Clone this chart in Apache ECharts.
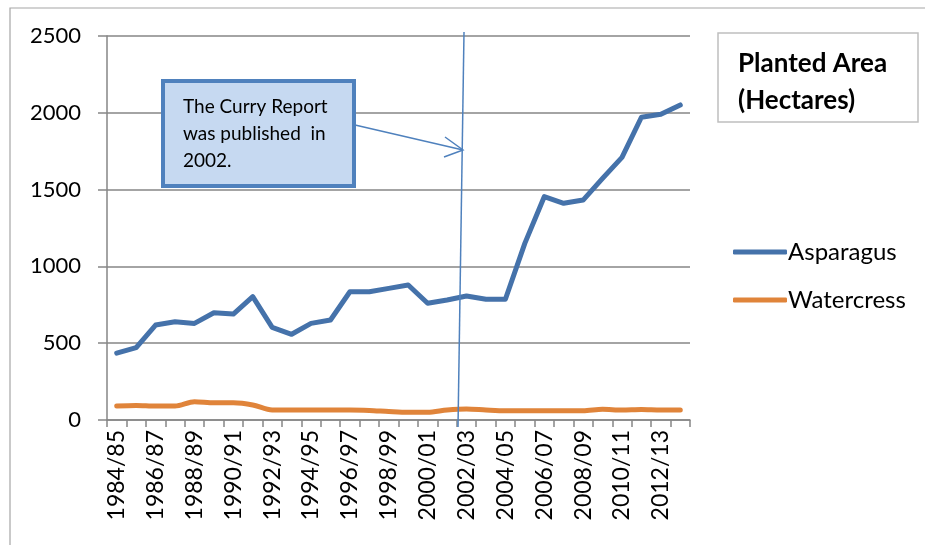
<!DOCTYPE html>
<html><head><meta charset="utf-8">
<script src="https://cdn.jsdelivr.net/npm/echarts@6/dist/echarts.min.js"></script>
<style>html,body{margin:0;padding:0;background:#fff}#c{width:925px;height:545px}</style>
</head><body><div id="c"></div>
<script>
const categories = ['1984/85','1985/86','1986/87','1987/88','1988/89','1989/90','1990/91','1991/92','1992/93','1993/94','1994/95','1995/96','1996/97','1997/98','1998/99','1999/00','2000/01','2001/02','2002/03','2003/04','2004/05','2005/06','2006/07','2007/08','2008/09','2009/10','2010/11','2011/12','2012/13','2013/14'];
const asparagus = [435,471,618,640,629,698,690,803,603,558,629,651,835,835,857,879,760,781,807,786,786,1150,1454,1411,1432,1573,1710,1971,1990,2051];
const watercress = [91,95,91,91,119,112,112,98,65,65,65,65,65,62,55,50,50,65,72,65,60,60,60,60,60,70,65,68,65,65];
const yTicks = [0,500,1000,1500,2000,2500];
const FONT = 'Lato';
const chart = echarts.init(document.getElementById('c'));
chart.setOption({
  animation:false,
  backgroundColor:'#fff',
  textStyle:{fontFamily:FONT},
  grid:{left:107,right:235,top:36,bottom:125,containLabel:false},
  legend:{
    orient:'vertical', left:728, top:235, itemWidth:54, itemHeight:5, itemGap:24,
    icon:'roundRect',
    textStyle:{fontFamily:FONT,fontSize:24,color:'#000',padding:[0,0,0,-4]},
    data:['Asparagus','Watercress']
  },
  xAxis:{
    type:'category', data:categories, boundaryGap:true,
    axisLine:{lineStyle:{color:'#868686',width:1.5}},
    axisTick:{show:true,interval:0,length:7,lineStyle:{color:'#868686',width:1.5}},
    axisLabel:{rotate:90,interval:1,fontSize:23,color:'#000',fontFamily:FONT,margin:10}
  },
  yAxis:{
    type:'value', min:yTicks[0], max:yTicks[yTicks.length-1], interval:500,
    axisLine:{show:true,lineStyle:{color:'#868686',width:1.5}},
    axisTick:{show:true,inside:false,length:9,lineStyle:{color:'#868686',width:1.5}},
    splitLine:{lineStyle:{color:'#868686',width:1.5}},
    axisLabel:{fontSize:22,color:'#000',fontFamily:FONT,margin:26,formatter:function(v){return String(v);}}
  },
  series:[
    {name:'Asparagus',type:'line',data:asparagus,symbol:'none',
     lineStyle:{width:5,color:'#4572aa',cap:'round',join:'round'},itemStyle:{color:'#4572aa'}},
    {name:'Watercress',type:'line',data:watercress,symbol:'none',smooth:0.3,
     lineStyle:{width:5,color:'#e0843a',cap:'round',join:'round'},itemStyle:{color:'#e0843a'}}
  ],
  graphic:[
    {type:'rect',shape:{x:10,y:8,width:940,height:560},style:{fill:'none',stroke:'#a6a6a6',lineWidth:1.2},z:-10,silent:true},
    {type:'rect',shape:{x:718,y:33,width:200,height:89},style:{fill:'#fff',stroke:'#bfbfbf',lineWidth:1.5},z:10},
    {type:'text',left:738,top:45,style:{text:'Planted Area\n(Hectares)',font:'bold 26px '+FONT,fill:'#000',lineHeight:37},z:11},
    {type:'line',shape:{x1:464,y1:32,x2:458,y2:427},style:{stroke:'#4f81bd',lineWidth:1.5},z:20},
    {type:'rect',shape:{x:163,y:81,width:191,height:105},style:{fill:'#c6d9f1',stroke:'#4f81bd',lineWidth:4},z:20},
    {type:'text',left:183,top:93,style:{text:'The Curry Report\nwas published  in\n2002.',font:'19px '+FONT,fill:'#000',lineHeight:27},z:21},
    {type:'line',shape:{x1:355,y1:125,x2:463,y2:150},style:{stroke:'#4f81bd',lineWidth:1.5},z:20},
    {type:'polyline',shape:{points:[[445,137],[463,150],[444,157]]},style:{stroke:'#4f81bd',lineWidth:1.5,fill:'none'},z:20}
  ]
});
</script></body></html>
